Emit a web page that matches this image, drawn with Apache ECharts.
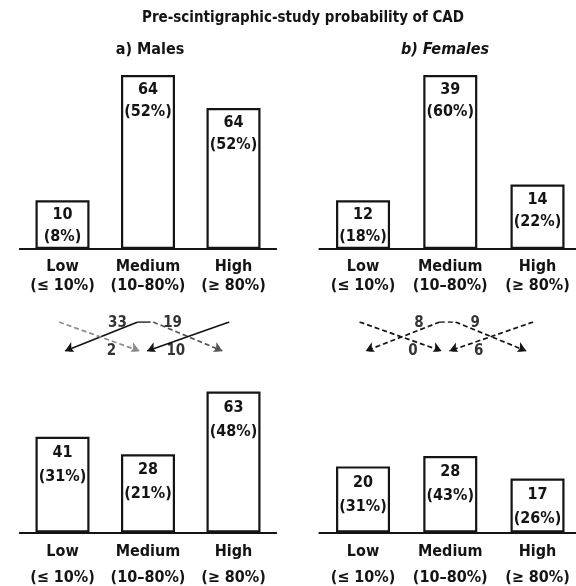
<!DOCTYPE html>
<html><head><meta charset="utf-8">
<script src="https://cdn.jsdelivr.net/npm/echarts@6/dist/echarts.min.js"></script>
<style>html,body{margin:0;padding:0;background:#fff}#c{width:576px;height:586px}</style>
</head><body><div id="c"></div>
<script>
// ---- data ----
const categories = ['Low', 'Medium', 'High'];
const categoryRanges = ['(≤ 10%)', '(10–80%)', '(≥ 80%)'];
const malesBeforeCounts = [10, 64, 64];
const malesBeforePct = [8, 52, 52];
const femalesBeforeCounts = [12, 39, 14];
const femalesBeforePct = [18, 60, 22];
const malesAfterCounts = [41, 28, 63];
const malesAfterPct = [31, 21, 48];
const femalesAfterCounts = [20, 28, 17];
const femalesAfterPct = [31, 43, 26];
// heights of the boxes as drawn in the figure (relative units, tallest box = 100)
const malesBeforeHeights = [28, 100, 81];
const femalesBeforeHeights = [28, 100, 37];
const malesAfterHeights = [55, 45, 81];
const femalesAfterHeights = [38, 44, 31];
// reclassification flows between the two studies
const flowFrom = ['Medium', 'Low', 'Medium', 'High'];
const flowTo = ['Low', 'Medium', 'High', 'Medium'];
const malesFlowCounts = [33, 2, 19, 10];
const femalesFlowCounts = [8, 0, 9, 6];

// ---- style ----
const FONT = "'Liberation Sans Narrow','DejaVu Sans Condensed','Arial Narrow',sans-serif";
const INK = '#141414';
const malesFlowStyle = [
  {type: 'solid', color: INK}, {type: [5, 3], color: '#8a8a8a'},
  {type: [5, 3], color: '#555'}, {type: 'solid', color: INK}
];
const femalesFlowStyle = [
  {type: [5, 3], color: INK}, {type: [5, 3], color: INK},
  {type: [5, 3], color: INK}, {type: [5, 3], color: INK}
];

const panelX = [{left: 19.75, width: 256.5}, {left: 319.4, width: 261.75}];
const topRow = {top: 75, height: 174, lineH: 22, labLineH: 19, labMargin: 8};
const botRow = {top: 358.5, height: 174, lineH: 24, labLineH: 26, labMargin: 6};
const flowRow = {top: 322, height: 29};

const grids = [], xAxes = [], yAxes = [], series = [];

function addBarPanel(px, row, heights, counts, pcts) {
  const gi = grids.length;
  grids.push({left: px.left, width: px.width, top: row.top, height: row.height,
    containLabel: false, outerBoundsMode: 'none'});
  xAxes.push({
    type: 'category', gridIndex: gi, data: categories,
    axisTick: {show: false},
    axisLine: {lineStyle: {color: INK, width: 2}},
    axisLabel: {
      formatter: (v, i) => v + '\n' + categoryRanges[i],
      fontFamily: FONT, fontWeight: 'bold', fontSize: 16, color: INK,
      lineHeight: row.labLineH, margin: row.labMargin, interval: 0
    }
  });
  yAxes.push({type: 'value', gridIndex: gi, min: 0, max: 100, show: false});
  series.push({
    type: 'bar', xAxisIndex: gi, yAxisIndex: gi, data: heights, barWidth: 54,
    itemStyle: {color: '#fff', borderColor: INK, borderWidth: 2.2},
    label: {
      show: true, position: 'insideTop', distance: 4,
      formatter: p => counts[p.dataIndex] + '\n(' + pcts[p.dataIndex] + '%)',
      fontFamily: FONT, fontWeight: 'bold', fontSize: 16, color: INK,
      lineHeight: row.lineH
    },
    silent: true, animation: false
  });
}

function topPos(from, to) {
  const f = categories.indexOf(from), t = categories.indexOf(to);
  if (from === 'Medium') return f + (t < f ? -0.12 : 0.06);
  if (from === 'High') return f - 0.05;
  return f - 0.04;
}
function botPos(to, from) {
  const f = categories.indexOf(from), t = categories.indexOf(to);
  if (to === 'Medium') return t + (f < t ? -0.1 : -0.01);
  if (to === 'High') return t - 0.13;
  return t + 0.03;
}

function addFlowPanel(px, counts, styles) {
  const gi = grids.length;
  grids.push({left: px.left, width: px.width, top: flowRow.top, height: flowRow.height,
    containLabel: false, outerBoundsMode: 'none'});
  xAxes.push({type: 'value', gridIndex: gi, min: -0.5, max: 2.5, show: false});
  yAxes.push({type: 'value', gridIndex: gi, min: 0, max: 1, show: false});
  const lineData = [], labelData = [];
  flowFrom.forEach((from, i) => {
    const to = flowTo[i];
    const x0 = topPos(from, to), x1 = botPos(to, from);
    lineData.push({coords: [[x0, 1], [x1, 0]], lineStyle: {type: styles[i].type, color: styles[i].color}});
    if (from === 'Medium') {
      labelData.push({value: [x0 + 0.28 * (x1 - x0), 1], name: String(counts[i]), label: {offset: [0, 1]}});
    } else {
      labelData.push({value: [x1 + 0.35 * (x0 - x1), 0], name: String(counts[i])});
    }
  });
  // short horizontal bend where the flows leave the Medium box
  const mi = categories.indexOf('Medium');
  const bend = [{coords: [[mi - 0.12, 1], [mi + 0.03, 1]], lineStyle: {type: styles[0].type, color: styles[0].color}}];
  series.push({
    type: 'lines', coordinateSystem: 'cartesian2d', xAxisIndex: gi, yAxisIndex: gi,
    data: lineData, symbol: ['none', 'arrow'], symbolSize: 9,
    lineStyle: {width: 1.7, opacity: 1}, silent: true, animation: false
  });
  series.push({
    type: 'lines', coordinateSystem: 'cartesian2d', xAxisIndex: gi, yAxisIndex: gi,
    data: bend, symbol: ['none', 'none'],
    lineStyle: {width: 1.7, opacity: 1}, silent: true, animation: false
  });
  series.push({
    type: 'scatter', xAxisIndex: gi, yAxisIndex: gi, data: labelData,
    symbolSize: 1, itemStyle: {color: 'rgba(0,0,0,0)'},
    label: {show: true, position: 'inside', formatter: p => p.name,
      fontFamily: FONT, fontWeight: 'bold', fontSize: 15, color: '#000',
      textBorderWidth: 0},
    silent: true, animation: false, z: 5
  });
}

addBarPanel(panelX[0], topRow, malesBeforeHeights, malesBeforeCounts, malesBeforePct);
addBarPanel(panelX[1], topRow, femalesBeforeHeights, femalesBeforeCounts, femalesBeforePct);
addBarPanel(panelX[0], botRow, malesAfterHeights, malesAfterCounts, malesAfterPct);
addBarPanel(panelX[1], botRow, femalesAfterHeights, femalesAfterCounts, femalesAfterPct);
addFlowPanel(panelX[0], malesFlowCounts, malesFlowStyle);
addFlowPanel(panelX[1], femalesFlowCounts, femalesFlowStyle);

const chart = echarts.init(document.getElementById('c'), null, {renderer: 'canvas'});
chart.setOption({
  backgroundColor: '#fff',
  animation: false,
  title: [
    {text: 'Pre-scintigraphic-study probability of CAD', left: 298, top: 6, textAlign: 'center',
      textStyle: {fontFamily: FONT, fontWeight: 'bold', fontSize: 15, color: INK}},
    {text: 'a) Males', left: 145, top: 37, textAlign: 'center',
      textStyle: {fontFamily: FONT, fontWeight: 'bold', fontSize: 16, color: INK}},
    {text: 'b) Females', left: 440, top: 37, textAlign: 'center',
      textStyle: {fontFamily: FONT, fontWeight: 'bold', fontStyle: 'italic', fontSize: 16, color: INK}}
  ],
  grid: grids, xAxis: xAxes, yAxis: yAxes, series: series
});
</script></body></html>
